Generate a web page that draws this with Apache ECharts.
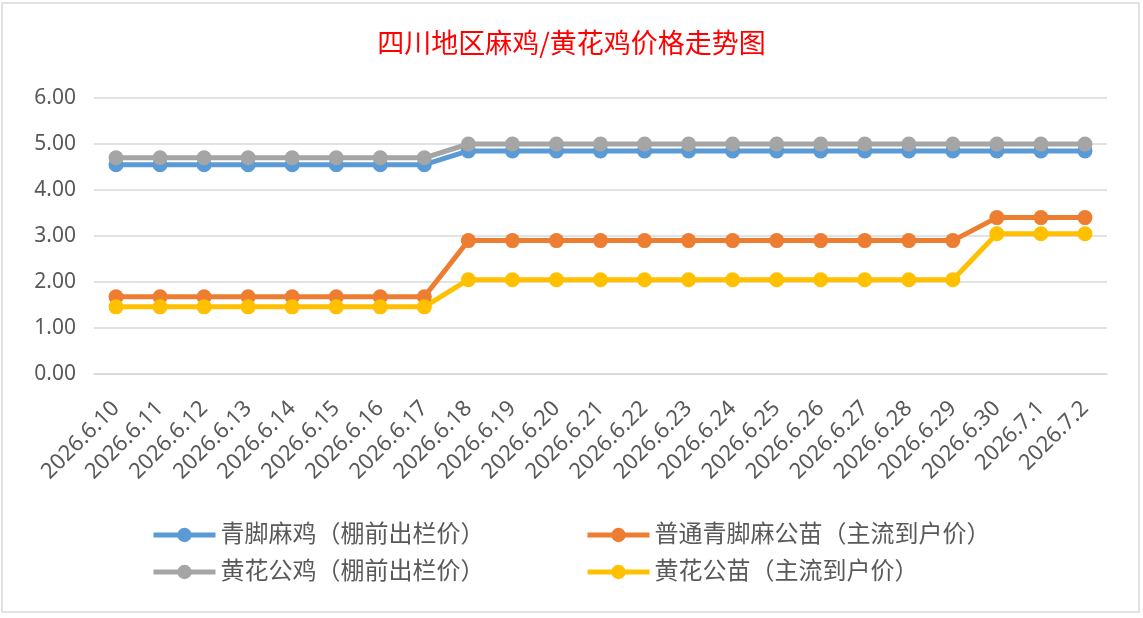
<!DOCTYPE html>
<html>
<head>
<meta charset="utf-8">
<script src="https://cdn.jsdelivr.net/npm/echarts@6/dist/echarts.min.js"></script>
<style>
	html, body { margin: 0; padding: 0; background: #fff; }
	#main { width: 1143px; height: 618px; }
</style>
</head>
<body>
<div id="main"></div>
<script>
	// 日期
	const dates = ['2026.6.10', '2026.6.11', '2026.6.12', '2026.6.13', '2026.6.14', '2026.6.15',
		'2026.6.16', '2026.6.17', '2026.6.18', '2026.6.19', '2026.6.20', '2026.6.21', '2026.6.22',
		'2026.6.23', '2026.6.24', '2026.6.25', '2026.6.26', '2026.6.27', '2026.6.28', '2026.6.29',
		'2026.6.30', '2026.7.1', '2026.7.2']

	// 价格
	const qingjiaoMaji = [4.55, 4.55, 4.55, 4.55, 4.55, 4.55, 4.55, 4.55,
		4.85, 4.85, 4.85, 4.85, 4.85, 4.85, 4.85, 4.85, 4.85, 4.85, 4.85, 4.85, 4.85, 4.85, 4.85]
	const putongMagongmiao = [1.68, 1.68, 1.68, 1.68, 1.68, 1.68, 1.68, 1.68,
		2.9, 2.9, 2.9, 2.9, 2.9, 2.9, 2.9, 2.9, 2.9, 2.9, 2.9, 2.9, 3.4, 3.4, 3.4]
	const huanghuaGongji = [4.7, 4.7, 4.7, 4.7, 4.7, 4.7, 4.7, 4.7,
		5.0, 5.0, 5.0, 5.0, 5.0, 5.0, 5.0, 5.0, 5.0, 5.0, 5.0, 5.0, 5.0, 5.0, 5.0]
	const huanghuaGongmiao = [1.46, 1.46, 1.46, 1.46, 1.46, 1.46, 1.46, 1.46,
		2.05, 2.05, 2.05, 2.05, 2.05, 2.05, 2.05, 2.05, 2.05, 2.05, 2.05, 2.05, 3.05, 3.05, 3.05]

	const seriesNames = ['青脚麻鸡（棚前出栏价）', '普通青脚麻公苗（主流到户价）',
		'黄花公鸡（棚前出栏价）', '黄花公苗（主流到户价）']
	const colors = ['#5b9bd5', '#ed7d31', '#a5a5a5', '#ffc000']
	const yTicks = [0, 1, 2, 3, 4, 5, 6]

	const font = '"Noto Sans", "Noto Sans CJK SC", sans-serif'

	function lineSeries(i, data) {
		return {
			name: seriesNames[i],
			type: 'line',
			data: data,
			symbol: 'circle',
			symbolSize: 15,
			color: colors[i],
			lineStyle: { width: 5, color: colors[i] },
			itemStyle: { color: colors[i] },
			emphasis: { disabled: true }
		}
	}

	const legendText = {
		color: '#595959',
		fontSize: 24,
		fontFamily: font
	}

	var myChart = echarts.init(document.getElementById('main'))
	var option = {
		animation: false,
		title: {
			text: '四川地区麻鸡/黄花鸡价格走势图',
			left: 'center',
			top: 24,
			textStyle: {
				color: '#ff0000',
				fontSize: 27,
				fontWeight: 'normal',
				fontFamily: '"Noto Sans CJK SC", sans-serif'
			}
		},
		graphic: [{
			type: 'rect',
			shape: { x: 2, y: 3, width: 1137, height: 609 },
			style: { fill: 'none', stroke: '#d9d9d9', lineWidth: 1.5 },
			silent: true
		}],
		legend: [{
			orient: 'vertical',
			left: 146,
			top: 518,
			itemWidth: 62,
			itemHeight: 18,
			itemGap: 13,
			lineStyle: { width: 5 },
			data: [seriesNames[0], seriesNames[2]],
			textStyle: legendText
		}, {
			orient: 'vertical',
			left: 580,
			top: 518,
			itemWidth: 62,
			itemHeight: 18,
			itemGap: 13,
			lineStyle: { width: 5 },
			data: [seriesNames[1], seriesNames[3]],
			textStyle: legendText
		}],
		grid: {
			left: 94,
			right: 36,
			top: 98,
			bottom: 244
		},
		xAxis: {
			type: 'category',
			data: dates,
			axisLine: { lineStyle: { color: '#d9d9d9', width: 1.5 } },
			axisTick: { show: false },
			axisLabel: {
				rotate: 45,
				margin: 31,
				interval: 0,
				color: '#595959',
				fontSize: 22,
				fontFamily: font
			}
		},
		yAxis: {
			type: 'value',
			min: yTicks[0],
			max: yTicks[yTicks.length - 1],
			interval: 1,
			axisLine: { show: false },
			axisTick: { show: false },
			splitLine: { lineStyle: { color: '#d9d9d9', width: 1.5 } },
			axisLabel: {
				margin: 18,
				color: '#595959',
				fontSize: 21,
				fontFamily: font,
				formatter: function(v) { return v.toFixed(2) }
			}
		},
		series: [
			lineSeries(0, qingjiaoMaji),
			lineSeries(1, putongMagongmiao),
			lineSeries(2, huanghuaGongji),
			lineSeries(3, huanghuaGongmiao)
		]
	}
	myChart.setOption(option)
</script>
</body>
</html>
